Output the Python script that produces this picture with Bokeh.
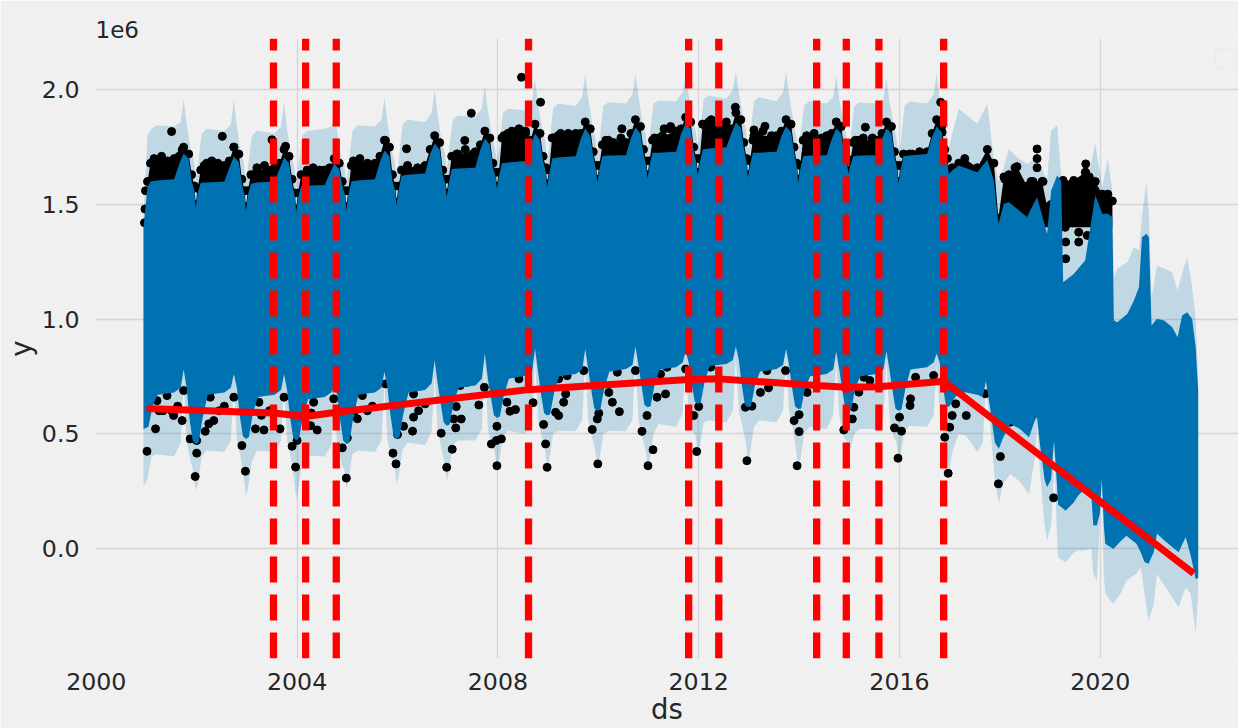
from bokeh.plotting import figure
from bokeh.embed import file_html
from bokeh.resources import INLINE
from bokeh.models import FixedTicker, Range1d, BoxAnnotation, NumeralTickFormatter

BG = "#f0f0f0"
BLUE = "#0072B2"
RED = "#ff0000"
Y_MIN, Y_MAX = -0.481, 2.224

years = list(range(2001, 2017))
blue_top_season = [.02, .08, .20, .55, .65, .74, .84, .90, .955, .98]
ci_top_season = [.02, .10, .20, .55, .68, .74, .80, .88, .94, .98]
blue_bot_season = [.04, .12, .22, .55, .68, .74, .80, .86, .92, .98]
ci_bot_season = [.02, .10, .20, .55, .68, .74, .80, .88, .94, .98]

blue_top_rows = [
 [1.575,1.60,1.605,1.61,1.675,1.722,1.70,1.60,1.56,1.486],
 [1.55,1.595,1.596,1.60,1.66,1.709,1.685,1.59,1.54,1.473],
 [1.54,1.59,1.596,1.60,1.655,1.705,1.68,1.59,1.535,1.465],
 [1.53,1.58,1.582,1.585,1.635,1.678,1.655,1.58,1.54,1.473],
 [1.54,1.60,1.604,1.61,1.685,1.735,1.71,1.60,1.56,1.495],
 [1.56,1.625,1.63,1.635,1.72,1.766,1.74,1.63,1.59,1.53],
 [1.59,1.655,1.657,1.66,1.74,1.788,1.76,1.66,1.62,1.569],
 [1.62,1.68,1.683,1.69,1.76,1.809,1.78,1.69,1.64,1.574],
 [1.63,1.70,1.705,1.71,1.785,1.831,1.80,1.71,1.65,1.595],
 [1.65,1.71,1.713,1.715,1.79,1.836,1.81,1.72,1.67,1.613],
 [1.67,1.725,1.726,1.73,1.81,1.853,1.83,1.73,1.68,1.626],
 [1.68,1.74,1.744,1.75,1.81,1.857,1.835,1.745,1.68,1.617],
 [1.67,1.725,1.726,1.73,1.80,1.84,1.815,1.73,1.66,1.595],
 [1.65,1.71,1.713,1.715,1.785,1.831,1.81,1.72,1.68,1.634],
 [1.67,1.71,1.713,1.715,1.785,1.831,1.81,1.71,1.65,1.59],
 [1.65,1.71,1.713,1.72,1.795,1.84,1.815,1.72,1.68,1.634],
]
ci_top_rows = [
 [1.80,1.83,1.845,1.84,1.86,1.96,1.85,1.74,1.70,1.60],
 [1.66,1.81,1.83,1.82,1.85,1.957,1.84,1.72,1.68,1.60],
 [1.66,1.80,1.823,1.81,1.84,1.946,1.83,1.71,1.67,1.59],
 [1.65,1.80,1.82,1.83,1.84,1.88,1.82,1.71,1.67,1.60],
 [1.66,1.82,1.845,1.84,1.87,1.968,1.86,1.74,1.69,1.62],
 [1.68,1.85,1.87,1.86,1.90,2.0,1.89,1.77,1.73,1.65],
 [1.72,1.87,1.888,1.88,1.92,2.019,1.91,1.80,1.75,1.69],
 [1.74,1.90,1.917,1.91,1.95,2.048,1.94,1.83,1.78,1.70],
 [1.75,1.92,1.939,1.93,1.97,2.07,1.96,1.85,1.79,1.72],
 [1.77,1.93,1.946,1.94,1.98,2.07,1.97,1.86,1.81,1.74],
 [1.79,1.94,1.953,1.95,1.99,2.07,1.98,1.87,1.82,1.75],
 [1.80,1.96,1.975,1.96,2.0,2.077,1.99,1.88,1.82,1.74],
 [1.78,1.95,1.968,1.95,1.99,2.077,1.98,1.87,1.80,1.72],
 [1.79,1.93,1.95,1.94,1.97,2.06,1.96,1.86,1.80,1.74],
 [1.78,1.93,1.945,1.94,1.96,2.05,1.95,1.85,1.79,1.72],
 [1.76,1.93,1.95,1.94,1.98,2.07,1.96,1.86,1.80,1.74],
]
obs_top_rows = [
 [1.60,1.68,1.69,1.70,1.71,1.75,1.72,1.63,1.58,1.50],
 [1.57,1.65,1.68,1.67,1.69,1.75,1.72,1.61,1.56,1.49],
 [1.56,1.63,1.65,1.66,1.68,1.74,1.71,1.61,1.55,1.48],
 [1.55,1.63,1.64,1.65,1.66,1.70,1.68,1.60,1.56,1.49],
 [1.56,1.67,1.69,1.68,1.71,1.78,1.75,1.63,1.58,1.51],
 [1.58,1.65,1.66,1.67,1.74,1.80,1.77,1.65,1.61,1.55],
 [1.61,1.71,1.72,1.73,1.76,1.82,1.79,1.68,1.64,1.58],
 [1.64,1.79,1.81,1.82,1.78,1.85,1.81,1.71,1.66,1.59],
 [1.65,1.79,1.80,1.81,1.81,1.86,1.83,1.73,1.67,1.61],
 [1.67,1.76,1.78,1.77,1.81,1.87,1.84,1.74,1.69,1.63],
 [1.69,1.78,1.79,1.82,1.83,1.88,1.86,1.75,1.70,1.64],
 [1.70,1.85,1.86,1.86,1.83,1.90,1.87,1.77,1.70,1.63],
 [1.69,1.78,1.80,1.80,1.82,1.87,1.85,1.75,1.68,1.61],
 [1.67,1.78,1.79,1.80,1.81,1.86,1.84,1.74,1.70,1.65],
 [1.69,1.77,1.78,1.78,1.81,1.86,1.84,1.73,1.67,1.60],
 [1.67,1.72,1.72,1.73,1.81,1.87,1.84,1.74,1.70,1.65],
]
blue_bot_rows = [
 [.53,.62,.67,.68,.70,.78,.70,.56,.47,.455],
 [.46,.57,.67,.68,.70,.76,.70,.575,.49,.477],
 [.485,.59,.66,.67,.69,.76,.69,.57,.485,.47],
 [.48,.58,.65,.66,.68,.70,.67,.555,.47,.455],
 [.46,.57,.67,.68,.70,.77,.70,.58,.49,.477],
 [.485,.59,.68,.69,.72,.82,.72,.63,.55,.535],
 [.54,.64,.70,.71,.74,.85,.74,.66,.58,.569],
 [.575,.67,.74,.753,.77,.87,.77,.67,.59,.579],
 [.585,.68,.75,.76,.78,.87,.78,.69,.61,.60],
 [.605,.70,.77,.782,.80,.88,.80,.71,.625,.615],
 [.62,.71,.78,.79,.81,.86,.81,.72,.64,.63],
 [.635,.73,.795,.804,.82,.88,.82,.71,.625,.615],
 [.62,.71,.77,.782,.80,.87,.80,.70,.62,.608],
 [.61,.70,.75,.76,.78,.86,.78,.69,.61,.60],
 [.605,.70,.75,.76,.78,.86,.78,.69,.61,.60],
 [.605,.70,.78,.79,.81,.85,.81,.71,.63,.615],
]
ci_bot_rows = [
 [.30,.40,.41,.40,.46,.74,.46,.38,.33,.252],
 [.28,.40,.426,.42,.47,.71,.47,.39,.31,.23],
 [.26,.38,.426,.42,.47,.71,.47,.39,.30,.215],
 [.25,.37,.404,.40,.45,.65,.45,.37,.34,.26],
 [.29,.41,.426,.42,.47,.72,.47,.39,.36,.28],
 [.31,.43,.46,.45,.51,.76,.51,.43,.37,.295],
 [.33,.45,.47,.47,.52,.80,.52,.44,.42,.34],
 [.37,.49,.513,.50,.56,.83,.56,.48,.43,.346],
 [.38,.50,.513,.51,.56,.83,.56,.48,.43,.353],
 [.38,.50,.513,.51,.56,.84,.56,.48,.43,.353],
 [.38,.50,.542,.53,.59,.82,.59,.51,.49,.411],
 [.44,.55,.557,.55,.60,.84,.60,.52,.46,.382],
 [.41,.53,.557,.55,.60,.84,.60,.52,.43,.353],
 [.38,.50,.528,.52,.58,.82,.58,.49,.47,.397],
 [.43,.50,.52,.52,.57,.82,.57,.49,.46,.383],
 [.41,.51,.535,.53,.58,.80,.58,.50,.40,.325],
]

# after 2017 the season breaks down, so the outlines are read point by point
late_top_x = [2017.05,2017.18,2017.55,2017.75,2017.88,2017.97,2018.08,2018.18,2018.34,2018.54,2018.74,2018.94,2019.02,2019.14,2019.22,2019.26,2019.47,2019.70,2019.90,2020.04,2020.15,2020.24,2020.27,2020.34,2020.54,2020.67,2020.77,2020.83,2020.92,2020.97,2021.02,2021.13,2021.27,2021.43,2021.54,2021.63,2021.73,2021.83,2021.90,2021.95]
late_blue_top = [1.648,1.67,1.641,1.695,1.605,1.416,1.503,1.51,1.481,1.445,1.532,1.372,1.56,1.626,1.605,1.161,1.197,1.256,1.54,1.459,1.459,1.445,.994,.986,1.023,1.081,1.139,1.357,1.372,1.357,.972,1.001,.994,.965,.921,1.015,1.03,1.0,.877,.688]
late_ci_top = [1.808,1.917,1.852,1.939,1.692,1.60,1.663,1.743,1.706,1.677,1.706,1.605,1.823,1.845,1.634,1.605,1.60,1.56,1.765,1.576,1.699,1.561,1.183,1.219,1.248,1.314,1.299,1.45,1.60,1.45,1.095,1.234,1.22,1.205,1.125,1.2,1.27,1.139,1.0,.75]
late_obs_x = [2017.05,2017.18,2017.30,2017.55,2017.75,2017.88,2017.97,2018.08,2018.18,2018.34,2018.54,2018.66,2018.84,2018.94,2019.02,2019.24,2019.26,2019.47,2019.70,2019.78,2019.90,2020.04,2020.15,2020.24]
late_obs_top = [1.66,1.68,1.70,1.66,1.74,1.68,1.44,1.62,1.63,1.665,1.58,1.60,1.60,1.49,1.50,1.60,1.605,1.605,1.64,1.62,1.60,1.545,1.545,1.515]
late_obs_low = [1.4,1.4,1.4,1.4,1.4,1.4,1.4,1.4,1.4,1.4,1.4,1.4,1.4,1.4,1.4,1.4,1.40,1.40,1.40,1.40,1.4,1.4,1.4,1.4]

late_bot_x = [2017.05,2017.18,2017.33,2017.55,2017.66,2017.72,2017.80,2017.90,2017.98,2018.06,2018.21,2018.40,2018.58,2018.70,2018.74,2018.80,2018.89,2018.94,2019.02,2019.07,2019.08,2019.13,2019.16,2019.31,2019.47,2019.56,2019.70,2019.82,2019.86,2019.93,2019.99,2020.03,2020.07,2020.10,2020.26,2020.40,2020.52,2020.72,2020.81,2020.88,2020.96,2021.06,2021.13,2021.30,2021.56,2021.70,2021.80,2021.90,2021.95]
late_blue_bot = [.64,.68,.68,.67,.66,.73,.62,.46,.434,.48,.543,.52,.484,.56,.572,.45,.30,.266,.30,.45,.463,.30,.19,.164,.20,.23,.26,.24,.10,.099,.15,.303,.10,.02,-.003,.03,.055,.02,-.02,-.06,-.068,-.02,.063,.03,-.017,.048,-.03,-.134,-.13]
late_ci_bot = [.42,.50,.49,.42,.46,.70,.55,.30,.194,.28,.324,.29,.237,.40,.54,.33,.10,.034,.10,.30,.44,.10,-.04,-.061,-.02,-.01,-.01,0,-.11,-.14,.10,.28,-.12,-.20,-.243,-.20,-.141,-.11,-.083,-.20,-.315,-.25,-.112,-.17,-.257,-.17,-.2,-.366,-.20]

start_x = [2000.94]
start_blue_top, start_ci_top, start_blue_bot, start_ci_bot = [1.40], [1.45], [.52], [.27]

# observed points that stand apart from the dark band
dot_x = [
 2000.96,2000.97,2000.98,2001.01,2001.18,2001.21,2001.25,2001.33,2001.41,2001.5,2001.54,2001.62,2001.71,2001.74,
 2001.87,2002.0,2002.0,2001.97,2002.17,2002.24,2002.27,2002.34,2002.45,2002.55,2002.74,
 2002.9,2002.97,2003.17,2003.24,2003.34,2003.29,2003.45,2003.66,2003.74,
 2003.9,2004.0,2003.97,2004.27,2004.33,2004.4,2004.28,2004.73,
 2004.9,2005.0,2004.98,2005.2,2005.3,2005.15,2005.4,2005.5,2005.76,
 2005.91,2005.97,2006.0,2006.12,2006.3,2006.32,2006.32,2006.42,2006.55,
 2006.87,2007.09,2006.98,2007.16,2007.12,2007.27,2007.17,2007.25,2007.39,2007.62,2007.73,
 2007.98,2008.07,2007.97,2007.87,2007.98,2008.18,2008.24,2008.35,2008.42,2008.70,
 2008.91,2008.95,2008.98,2009.15,2009.21,2009.31,2009.35,2009.38,2009.21,2009.71,
 2009.98,2010.01,2009.88,2009.99,2010.28,2010.42,2010.21,2010.38,2010.74,
 2010.87,2011.09,2010.99,2010.97,2011.17,2011.34,2011.37,2011.24,2011.74,
 2012.0,2011.9,2011.96,2012.24,2012.93,2013.06,2013.23,2013.36,2013.39,2012.96,2013.73,
 2013.9,2014.0,2014.0,2013.96,2014.16,
 2014.89,2015.06,2015.09,2015.29,2015.41,2015.19,2016.0,2015.9,2016.04,2015.97,2016.22,2016.21,2016.32,2016.68,
 2016.9,2017.0,2016.97,2017.05,2017.12,2017.33,2017.28,2017.71,2018.21,2018.01,2017.97,2019.07,
 2001.50,2001.71,2002.51,2002.74,2003.5,2003.77,2005.76,2006.18,
 2008.47,2007.47,2008.85,2007.34,2010.47,2011.31,2011.44,2013.32,2013.1,2012.73,
 2015.32,2015.46,2016.82,2016.85,
]
dot_y = [
 1.42,1.48,1.56,.423,.521,.644,.60,.60,.666,.60,.579,.62,.557,.688,
 .477,.47,.415,.313,.51,.543,.659,.557,.60,.62,.659,
 .448,.336,.521,.637,.516,.58,.60,.521,.659,
 .445,.47,.354,.535,.637,.516,.59,.652,
 .438,.482,.306,.565,.666,.60,.60,.62,.717,
 .415,.368,.496,.532,.511,.572,.673,.60,.63,
 .502,.432,.353,.525,.564,.564,.618,.71,.724,.625,.702,
 .532,.477,.47,.455,.36,.637,.598,.605,.739,.635,
 .54,.455,.353,.593,.579,.637,.673,.753,.739,.775,
 .564,.589,.518,.368,.637,.596,.68,.768,.775,
 .51,.43,.36,.579,.659,.673,.79,.76,.782,
 .618,.579,.422,.79,.615,.62,.68,.775,.70,.382,.775,
 .557,.583,.509,.36,.68,
 .516,.564,.615,.746,.732,.681,.572,.525,.511,.393,.652,.623,.746,.754,
 .484,.528,.327,.579,.63,.579,.71,.674,.55,.40,.281,.22,
 1.818,1.738,1.797,1.75,1.782,1.754,1.779,1.743,
 2.055,1.898,1.946,1.779,1.83,1.83,1.84,1.841,1.825,1.924,
 1.837,1.79,1.946,1.815,
]
# heavy clusters along the upper edge
cluster_x = [
 2001.15,2001.3,2001.42,2002.15,2002.3,2002.42,2003.2,2003.35,2003.48,2004.2,2004.32,2004.45,2005.12,2005.25,2005.4,
 2006.2,2006.4,2007.18,2007.35,2007.5,2008.12,2008.28,2008.42,2008.55,2009.1,2009.25,2009.4,2009.52,2010.15,2010.3,2010.45,
 2011.12,2011.28,2011.42,2011.55,2012.08,2012.25,2012.4,2012.55,2013.1,2013.28,2013.45,2014.15,2014.3,2014.45,2015.12,2015.28,2015.45,2016.25,2016.4,
 2018.74,2018.74,2018.74,2018.62,2018.86,2018.3,2018.1,2019.71,2019.71,2019.71,2019.80,2019.85,2019.6,
 2019.31,2019.31,2019.57,2019.57,2019.74,2019.30,2019.45,2019.62,
]
cluster_y = [
 1.70,1.71,1.69,1.67,1.69,1.68,1.66,1.67,1.65,1.65,1.66,1.65,1.69,1.70,1.68,
 1.67,1.66,1.72,1.74,1.72,1.80,1.82,1.83,1.81,1.79,1.81,1.81,1.78,1.78,1.77,1.79,
 1.79,1.80,1.83,1.79,1.85,1.87,1.85,1.84,1.80,1.82,1.80,1.80,1.81,1.79,1.78,1.79,1.77,1.72,1.73,
 1.742,1.70,1.66,1.60,1.60,1.66,1.61,1.677,1.64,1.60,1.60,1.57,1.60,
 1.336,1.263,1.336,1.379,1.365,1.40,1.42,1.43,
]

trend_x = [2001.0,2003.53,2004.17,2004.78,2008.61,2011.80,2012.40,2014.35,2014.94,2015.59,2016.88,2021.86]
trend_y = [.61,.59,.575,.593,.692,.736,.739,.71,.702,.705,.729,-.11]
changepoints = [2003.53,2004.17,2004.78,2008.61,2011.80,2012.40,2014.35,2014.94,2015.59,2016.88]

x_ticks = [2000, 2004, 2008, 2012, 2016, 2020]
y_ticks = [0.0, 0.5, 1.0, 1.5, 2.0]

on_years = lambda fracs: [y + f for y in years for f in fracs]
flat = lambda rows: [v for r in rows for v in r]

blue_top_x = start_x + on_years(blue_top_season) + late_top_x
ci_top_x = start_x + on_years(ci_top_season) + late_top_x
blue_bot_x = start_x + on_years(blue_bot_season) + late_bot_x
ci_bot_x = start_x + on_years(ci_bot_season) + late_bot_x
blue_top = start_blue_top + flat(blue_top_rows) + late_blue_top
ci_top = start_ci_top + flat(ci_top_rows) + late_ci_top
blue_bot = start_blue_bot + flat(blue_bot_rows) + late_blue_bot
ci_bot = start_ci_bot + flat(ci_bot_rows) + late_ci_bot
obs_x = on_years(blue_top_season) + late_obs_x
obs_top = flat(obs_top_rows) + late_obs_top
obs_low = [1.3] * (len(obs_x) - len(late_obs_low)) + late_obs_low

p = figure(width=1238, height=728, output_backend="svg", toolbar_location=None,
           title="1e6", title_location="above",
           x_range=Range1d(1999.984, 2022.753), y_range=Range1d(Y_MIN, Y_MAX),
           min_border_left=95, min_border_right=0, min_border_top=38, min_border_bottom=70,
           background_fill_color=BG, border_fill_color=BG, outline_line_color=None)

p.title.text_font = "DejaVu Sans"
p.title.text_font_size = "23px"
p.title.text_font_style = "normal"
p.title.text_color = "#262626"
p.title.align = "left"
p.title.offset = 0
p.title.standoff = 2

p.patch(ci_top_x + ci_bot_x[::-1], ci_top + ci_bot[::-1], color=BLUE, alpha=0.2, line_width=0)
p.varea(x=obs_x, y1=obs_low, y2=obs_top, color="black")
p.scatter(obs_x, obs_top, size=8, color="black")
p.scatter(cluster_x, cluster_y, size=8, color="black")
p.scatter(dot_x, dot_y, size=8, color="black")
p.patch(blue_top_x + blue_bot_x[::-1], blue_top + blue_bot[::-1], color=BLUE, line_width=0)

p.line(trend_x, trend_y, color=RED, line_width=7)
p.segment(changepoints, [Y_MIN] * len(changepoints), changepoints, [Y_MAX] * len(changepoints),
          color=RED, line_width=7.3, line_dash="26 12", line_cap="butt")

for ax in (p.xaxis[0], p.yaxis[0]):
    ax.axis_line_color = None
    ax.major_tick_line_color = None
    ax.minor_tick_line_color = None
    ax.major_label_text_font = "DejaVu Sans"
    ax.major_label_text_font_size = "23.7px"
    ax.major_label_text_color = "#262626"
    ax.axis_label_text_font = "DejaVu Sans"
    ax.axis_label_text_font_size = "27.5px"
    ax.axis_label_text_font_style = "normal"
    ax.axis_label_text_color = "#262626"

p.xaxis[0].ticker = FixedTicker(ticks=x_ticks)
p.yaxis[0].ticker = FixedTicker(ticks=y_ticks)
p.yaxis[0].formatter = NumeralTickFormatter(format="0.0")
p.xaxis[0].axis_label = "ds"
p.yaxis[0].axis_label = "y"
p.xaxis[0].major_label_standoff = 8
p.yaxis[0].major_label_standoff = 10
p.xaxis[0].axis_label_standoff = 0
p.yaxis[0].axis_label_standoff = 2

p.xgrid[0].grid_line_color = "#d4d4d4"
p.ygrid[0].grid_line_color = "#d4d4d4"
p.xgrid[0].grid_line_width = 1.3
p.ygrid[0].grid_line_width = 1.3
p.xgrid[0].ticker = FixedTicker(ticks=x_ticks[1:])
p.ygrid[0].ticker = FixedTicker(ticks=y_ticks)

p.add_layout(BoxAnnotation(left=1215, right=1236, top=48, bottom=68,
                           left_units="canvas", right_units="canvas", top_units="canvas", bottom_units="canvas",
                           fill_color=BG, fill_alpha=0.8, line_color="#dedede", line_width=1.2, border_radius=3))

open("out.html", "w").write(file_html(p, INLINE))
